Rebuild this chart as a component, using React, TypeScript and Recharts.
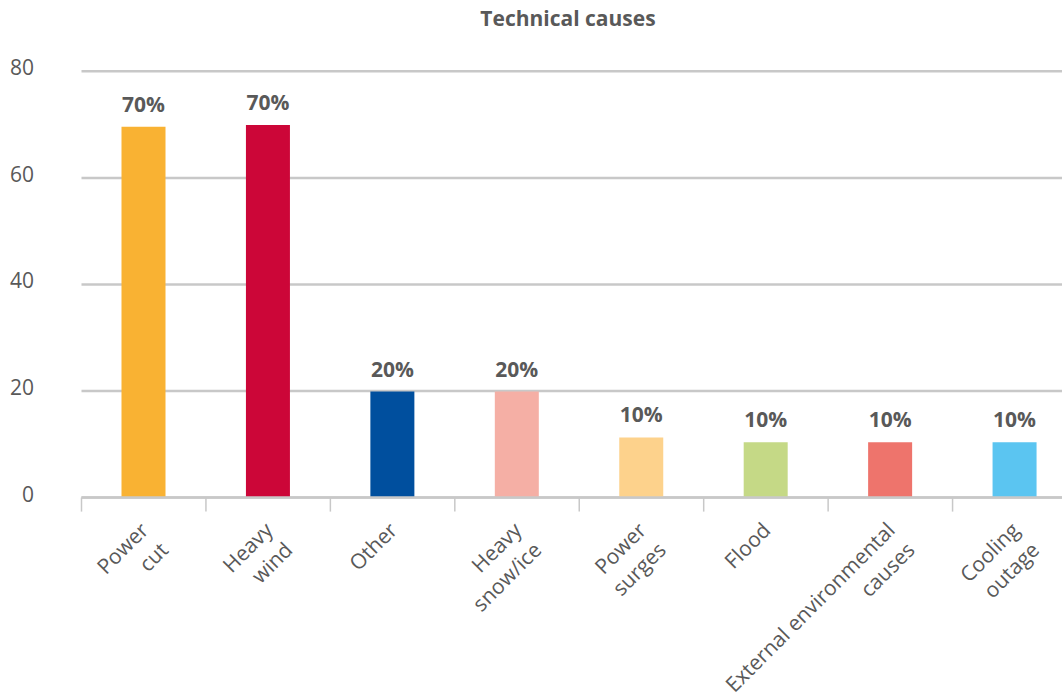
import React from "react";
import { BarChart, Bar, XAxis, YAxis, CartesianGrid, Cell, LabelList } from "recharts";

const categories = [
  "Power\ncut",
  "Heavy\nwind",
  "Other",
  "Heavy\nsnow/ice",
  "Power\nsurges",
  "Flood",
  "External environmental\ncauses",
  "Cooling\noutage",
];
const values = [69.6, 69.9, 19.9, 19.9, 11.3, 10.4, 10.4, 10.4];
const valueLabels = ["70%", "70%", "20%", "20%", "10%", "10%", "10%", "10%"];
const colors = ["#F9B233", "#CC0638", "#004F9E", "#F5AFA5", "#FDD28C", "#C5D986", "#EE746C", "#5BC5F1"];
const yTicks = [0, 20, 40, 60, 80];
const title = "Technical causes";

const data = categories.map((name, i) => ({ name, value: values[i], label: valueLabels[i] }));

const FONT = "'Open Sans', sans-serif";
const TEXT = "#595959";
const GRID = "#c8c8c8";

const CHART_W = 1077;
const Y_AXIS_W = 81.5;
const BAND = (CHART_W - Y_AXIS_W) / categories.length;

const XTick = (props: any) => {
  const { x, y, payload } = props;
  const lines = String(payload.value).split("\n");
  const ax = x + 6;
  const ay = y + 34;
  return (
    <g>
      <line x1={x - BAND / 2} x2={x - BAND / 2} y1={y} y2={y + 14} stroke={GRID} strokeWidth={1.5} />
      <text
        x={ax}
        y={ay}
        textAnchor="end"
        transform={`rotate(-45, ${ax}, ${ay})`}
        fill={TEXT}
        fontSize={21}
        fontFamily={FONT}
      >
        {lines.map((l, i) => (
          <tspan key={i} x={ax} dy={i === 0 ? 0 : 28}>
            {l}
          </tspan>
        ))}
      </text>
    </g>
  );
};

const YTick = (props: any) => {
  const { y, payload } = props;
  return (
    <text x={34} y={y - 4} textAnchor="end" dominantBaseline="central" fill={TEXT} fontSize={21} fontFamily={FONT}>
      {payload.value}
    </text>
  );
};

const BarLabel = (props: any) => {
  const { x, y, width, value } = props;
  return (
    <text x={x + width / 2} y={y - 15} textAnchor="middle" fill={TEXT} fontSize={21} fontWeight={700} fontFamily={FONT}>
      {value}
    </text>
  );
};

export default function App() {
  return (
    <div
      style={{
        position: "fixed",
        left: 0,
        top: 0,
        width: 1062,
        height: 698,
        overflow: "hidden",
        background: "#fff",
      }}
    >
      <BarChart
        width={CHART_W}
        height={698}
        data={data}
        margin={{ top: 71.3, right: 0, bottom: 10.4, left: 0 }}
        barSize={44}
      >
        <CartesianGrid vertical={false} stroke={GRID} strokeWidth={2.5} />
        <YAxis
          width={Y_AXIS_W}
          domain={[0, 80]}
          ticks={yTicks}
          axisLine={false}
          tickLine={false}
          tickSize={0}
          tickMargin={0}
          tick={<YTick />}
        />
        <XAxis
          dataKey="name"
          interval={0}
          height={190}
          tickLine={false}
          tickSize={0}
          tickMargin={0}
          axisLine={{ stroke: GRID, strokeWidth: 2.5 }}
          tick={<XTick />}
        />
        <Bar dataKey="value" isAnimationActive={false}>
          {data.map((d, i) => (
            <Cell key={d.name} fill={colors[i]} />
          ))}
          <LabelList dataKey="label" content={<BarLabel />} />
        </Bar>
      </BarChart>
      <svg width={1062} height={60} style={{ position: "absolute", left: 0, top: 0 }}>
        <text x={568} y={26} textAnchor="middle" fill={TEXT} fontSize={21} fontWeight={700} fontFamily={FONT}>
          {title}
        </text>
      </svg>
    </div>
  );
}
